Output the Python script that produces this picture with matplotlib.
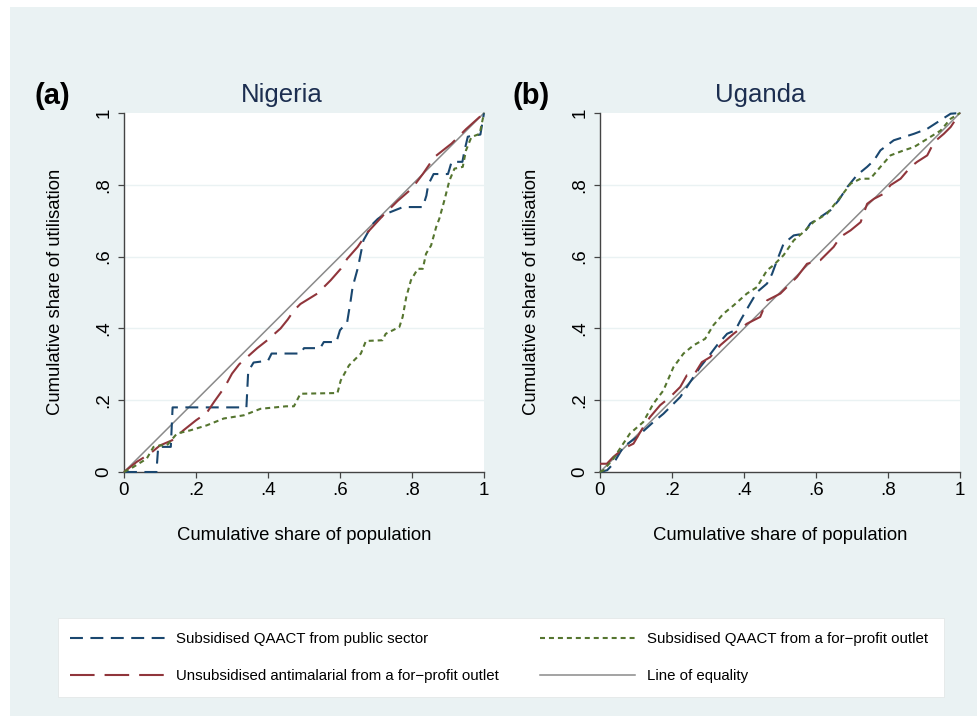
import matplotlib
matplotlib.use("Agg")
import matplotlib.pyplot as plt
from matplotlib.lines import Line2D
from matplotlib.patches import Rectangle

plt.rcParams["font.family"] = ["Liberation Sans", "DejaVu Sans"]

W, H = 978, 716

# Nigeria
ng_pub_x = [0, 0.09, 0.095, 0.13, 0.135, 0.34, 0.345, 0.36, 0.40, 0.41, 0.49, 0.50, 0.545, 0.555,
            0.59, 0.60, 0.62, 0.63, 0.635, 0.65, 0.665, 0.69, 0.705, 0.73, 0.775, 0.83, 0.84, 0.845,
            0.86, 0.90, 0.91, 0.94, 0.946, 0.955, 0.99, 1.0]
ng_pub_y = [0, 0, 0.07, 0.07, 0.18, 0.18, 0.28, 0.305, 0.31, 0.33, 0.33, 0.345, 0.345, 0.362,
            0.362, 0.395, 0.418, 0.48, 0.515, 0.57, 0.645, 0.69, 0.705, 0.72, 0.738, 0.738, 0.77, 0.80,
            0.83, 0.83, 0.864, 0.864, 0.896, 0.934, 0.94, 1.0]

ng_unsub_x = [0, 0.035, 0.072, 0.10, 0.133, 0.165, 0.20, 0.23, 0.25, 0.28, 0.30, 0.32, 0.342, 0.37,
              0.398, 0.435, 0.455, 0.472, 0.49, 0.537, 0.574, 0.602, 0.62, 0.649, 0.677, 0.72, 0.76,
              0.80, 0.83, 0.862, 0.91, 0.95, 1.0]
ng_unsub_y = [0, 0.028, 0.051, 0.074, 0.088, 0.116, 0.144, 0.165, 0.195, 0.237, 0.274, 0.30, 0.32, 0.345,
              0.367, 0.40, 0.425, 0.45, 0.468, 0.497, 0.534, 0.566, 0.594, 0.627, 0.668, 0.715, 0.755,
              0.79, 0.83, 0.877, 0.915, 0.955, 1.0]

ng_fp_x = [0, 0.026, 0.063, 0.082, 0.10, 0.119, 0.147, 0.184, 0.23, 0.277, 0.333, 0.379, 0.45, 0.472,
           0.49, 0.593, 0.602, 0.625, 0.658, 0.672, 0.718, 0.727, 0.765, 0.774, 0.784, 0.797, 0.816,
           0.83, 0.839, 0.853, 0.867, 0.876, 0.89, 0.904, 0.918, 0.941, 0.95, 0.965, 0.988, 1.0]
ng_fp_y = [0, 0.014, 0.037, 0.07, 0.074, 0.074, 0.107, 0.116, 0.13, 0.149, 0.158, 0.176, 0.183, 0.183,
           0.218, 0.22, 0.255, 0.297, 0.33, 0.365, 0.367, 0.385, 0.404, 0.432, 0.487, 0.534, 0.566,
           0.566, 0.608, 0.631, 0.682, 0.706, 0.757, 0.812, 0.845, 0.85, 0.896, 0.933, 0.942, 1.0]

# Uganda
ug_pub_x = [0, 0.02, 0.037, 0.065, 0.102, 0.148, 0.176, 0.223, 0.25, 0.278, 0.297, 0.325, 0.353,
            0.376, 0.39, 0.417, 0.436, 0.464, 0.478, 0.492, 0.51, 0.538, 0.566, 0.584, 0.612, 0.64,
            0.663, 0.687, 0.714, 0.742, 0.761, 0.779, 0.816, 0.844, 0.872, 0.909, 0.946, 0.974, 1.0]
ug_pub_y = [0, 0.005, 0.023, 0.07, 0.097, 0.139, 0.162, 0.209, 0.25, 0.292, 0.316, 0.353, 0.385,
            0.395, 0.422, 0.469, 0.501, 0.525, 0.552, 0.59, 0.636, 0.659, 0.664, 0.692, 0.71, 0.729,
            0.757, 0.794, 0.827, 0.85, 0.868, 0.896, 0.924, 0.933, 0.942, 0.956, 0.98, 0.998, 1.0]

ug_unsub_x = [0, 0.019, 0.037, 0.065, 0.093, 0.12, 0.139, 0.167, 0.195, 0.223, 0.241, 0.26, 0.283,
              0.306, 0.334, 0.371, 0.408, 0.445, 0.464, 0.501, 0.519, 0.547, 0.575, 0.612, 0.649,
              0.668, 0.696, 0.724, 0.742, 0.761, 0.788, 0.807, 0.835, 0.863, 0.881, 0.909, 0.928,
              0.955, 0.974, 1.0]
ug_unsub_y = [0.023, 0.023, 0.042, 0.065, 0.079, 0.125, 0.153, 0.186, 0.209, 0.237, 0.269, 0.269, 0.306,
              0.32, 0.353, 0.385, 0.413, 0.432, 0.478, 0.497, 0.515, 0.543, 0.58, 0.59, 0.627,
              0.655, 0.673, 0.696, 0.747, 0.761, 0.775, 0.799, 0.817, 0.85, 0.864, 0.882, 0.919,
              0.942, 0.961, 1.0]

ug_fp_x = [0, 0.01, 0.037, 0.083, 0.12, 0.148, 0.176, 0.204, 0.232, 0.26, 0.292, 0.315, 0.343, 0.371,
           0.408, 0.436, 0.464, 0.482, 0.51, 0.538, 0.566, 0.594, 0.631, 0.668, 0.696, 0.724, 0.751,
           0.779, 0.807, 0.844, 0.872, 0.909, 0.946, 0.974, 1.0]
ug_fp_y = [0, 0.005, 0.037, 0.107, 0.139, 0.19, 0.227, 0.292, 0.33, 0.353, 0.371, 0.409, 0.441, 0.464,
           0.497, 0.515, 0.562, 0.576, 0.604, 0.645, 0.669, 0.697, 0.72, 0.766, 0.803, 0.817, 0.817,
           0.85, 0.882, 0.896, 0.905, 0.928, 0.951, 0.984, 1.0]

ticks = [0, 0.2, 0.4, 0.6, 0.8, 1]
tick_labels = ["0", ".2", ".4", ".6", ".8", "1"]

series_labels = ["Subsidised QAACT from public sector",
                 "Unsubsidised antimalarial from a for\u2212profit outlet",
                 "Subsidised QAACT from a for\u2212profit outlet",
                 "Line of equality"]

BG = "#eaf2f3"
NAVY = "#1a476f"
MAROON = "#90353b"
GREEN = "#55752f"
GRAY = "#8a8a8a"
LW = 1.5
styles = [
    dict(color=NAVY, lw=LW, dashes=(6.2, 3.6)),
    dict(color=MAROON, lw=LW, dashes=(11.8, 4.8)),
    dict(color=GREEN, lw=LW, dashes=(2.4, 1.9)),
    dict(color=GRAY, lw=1.1),
]


def px(x, y):
  return x / W, 1 - y / H


def panel(left, data, letter, letter_x, title, title_x):
  x0, y0 = px(left, 472)
  ax = fig.add_axes([x0, y0, 360 / W, 359 / H])
  ax.set_facecolor("white")
  ax.set_xlim(0, 1)
  ax.set_ylim(0, 1)
  for y in ticks[1:-1]:
    ax.axhline(y, color=BG, lw=1.0, zorder=0)
  ax.plot([0, 1], [0, 1], clip_on=False, zorder=2, **styles[3])
  for (xs, ys), st in zip(data, styles[:3]):
    ax.plot(xs, ys, clip_on=False, zorder=3, solid_capstyle="butt", **st)
  for s in ["top", "right"]:
    ax.spines[s].set_visible(False)
  for s in ["left", "bottom"]:
    ax.spines[s].set_color("#444444")
    ax.spines[s].set_linewidth(1.0)
  ax.set_xticks(ticks)
  ax.set_xticklabels(tick_labels)
  ax.set_yticks(ticks)
  ax.set_yticklabels(tick_labels, rotation=90, va="center")
  ax.tick_params(direction="out", length=4.3, width=0.9, color="#444444", labelsize=13.5)
  ax.tick_params(axis="x", pad=3)
  ax.tick_params(axis="y", pad=4)

  cx = left + 180
  fig.text(*px(cx, 536), "Cumulative share of population", ha="center", va="center", fontsize=13.3)
  fig.text(*px(left - 68, 292), "Cumulative share of utilisation", ha="center", va="center",
           rotation=90, fontsize=13.3)
  fig.text(*px(title_x, 95), title, ha="center", va="center", fontsize=18.5, color="#1c2e50")
  fig.text(*px(letter_x, 96), letter, ha="left", va="center", fontsize=21, fontweight="bold")
  return ax


fig = plt.figure(figsize=(W / 100, H / 100), dpi=100, facecolor="white")
fig.patches.append(Rectangle(px(10, 716), (W - 10) / W, (716 - 7) / H, transform=fig.transFigure,
                             facecolor=BG, edgecolor="none", zorder=-10))

panel(124, [(ng_pub_x, ng_pub_y), (ng_unsub_x, ng_unsub_y), (ng_fp_x, ng_fp_y)],
      "(a)", 34, "Nigeria", 282)
panel(600, [(ug_pub_x, ug_pub_y), (ug_unsub_x, ug_unsub_y), (ug_fp_x, ug_fp_y)],
      "(b)", 513, "Uganda", 760)

# legend box
fig.patches.append(Rectangle(px(58, 697), (944 - 58) / W, (697 - 618) / H, transform=fig.transFigure,
                             facecolor="white", edgecolor="#e4e8e8", lw=0.6, zorder=1))
handles = [Line2D([], [], **styles[0]), Line2D([], [], **styles[1]),
           Line2D([], [], **styles[2]), Line2D([], [], **styles[3])]
lx0, ly0 = px(70, 697)
fig.legend(handles, series_labels, ncol=2, mode="expand", loc="center",
           bbox_to_anchor=(lx0, ly0, (928 - 70) / W, (697 - 618) / H),
           frameon=False, fontsize=10.8, handlelength=6.3, handletextpad=0.8,
           labelspacing=1.5, borderpad=0, borderaxespad=0)

fig.savefig("out.png", dpi=100, facecolor=fig.get_facecolor())
